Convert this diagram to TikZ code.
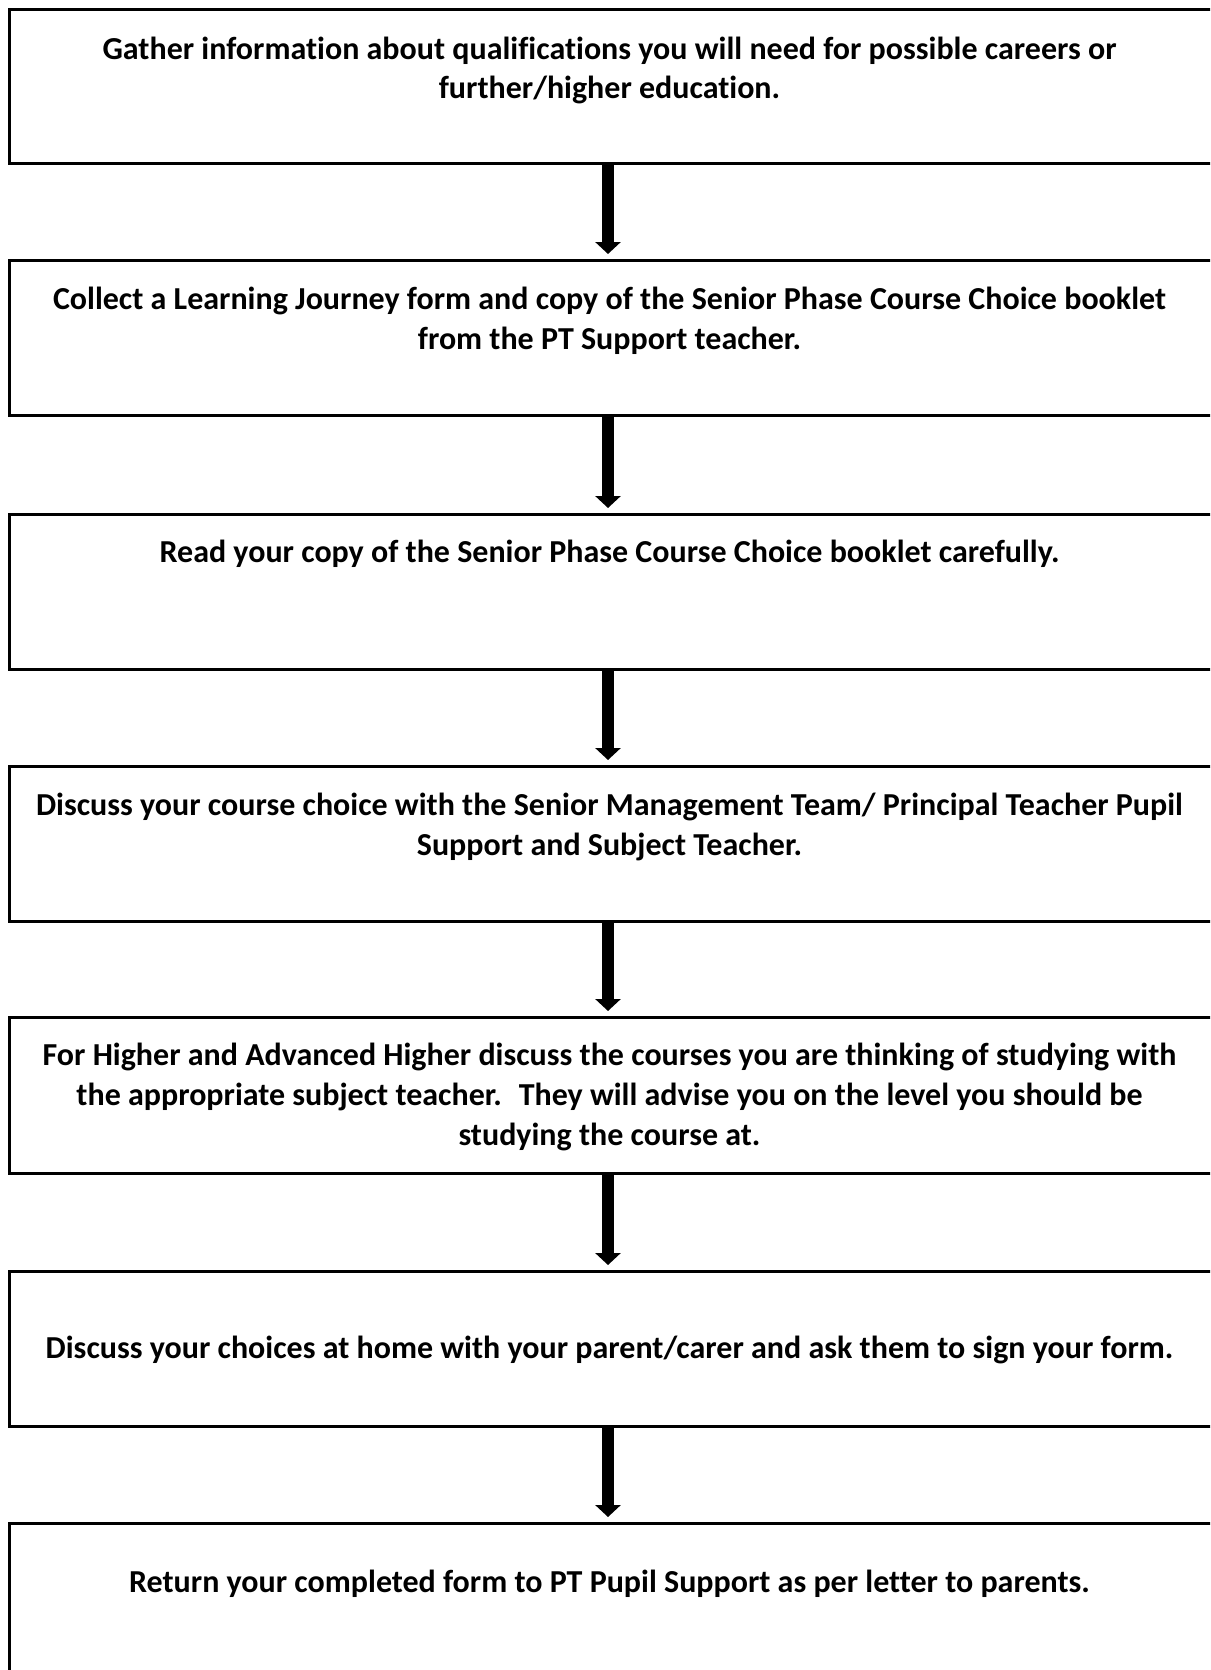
\documentclass[tikz,border=0pt]{standalone}
\usepackage{fontspec}
\setmainfont{Carlito}[Ligatures={NoCommon,NoRare,NoContextual}]
\usetikzlibrary{arrows.meta}
\begin{document}
\begin{tikzpicture}[x=0.5pt,y=-0.5pt,
  stepbox/.style={draw=black,line width=1.5pt,inner sep=0pt,outer sep=0pt,minimum width=601.5pt,fill=none},
  txt/.style={inner sep=0pt,outer sep=0pt,anchor=base,font=\fontsize{16pt}{20pt}\selectfont\bfseries},
  flow/.style={line width=6pt,-{Triangle[width=12.5pt,length=6pt]},shorten >=3pt}]
\useasboundingbox (0,0) rectangle (1210,1670);
\clip (0,0) rectangle (1210,1670);
\coordinate (ax) at (608,0);
% boxes (centre x = 610.5, from x=9 to x=1212)
\node[stepbox,minimum height=77pt]   (b1) at (610.5,86) {};
\node[stepbox,minimum height=77.5pt] (b2) at (610.5,337.5) {};
\node[stepbox,minimum height=77.5pt] (b3) at (610.5,591.5) {};
\node[stepbox,minimum height=77.5pt] (b4) at (610.5,843.5) {};
\node[stepbox,minimum height=78pt]   (b5) at (610.5,1095) {};
\node[stepbox,minimum height=77.5pt] (b6) at (610.5,1348.5) {};
\node[stepbox,minimum height=85pt]   (b7) at (610.5,1608) {};
% texts
\node[txt] (t1) at (609.5,59) {\begin{tabular}[t]{@{}c@{}}Gather information about qualifications you will need for possible careers or\\further/higher education.\end{tabular}};
\node[txt] (t2) at (609.5,309) {\begin{tabular}[t]{@{}c@{}}Collect a Learning Journey form and copy of the Senior Phase Course Choice booklet\\from the PT Support teacher.\end{tabular}};
\node[txt] (t3) at (609.5,562) {Read your copy of the Senior Phase Course Choice booklet carefully.};
\node[txt] (t4) at (609.5,815) {\begin{tabular}[t]{@{}c@{}}Discuss your course choice with the Senior Management Team/ Principal Teacher Pupil\\Support and Subject Teacher.\end{tabular}};
\node[txt] (t5) at (609.5,1065) {\begin{tabular}[t]{@{}c@{}}For Higher and Advanced Higher discuss the courses you are thinking of studying with\\the appropriate subject teacher.~ They will advise you on the level you should be\\studying the course at.\end{tabular}};
\node[txt] (t6) at (609.5,1358) {Discuss your choices at home with your parent/carer and ask them to sign your form.};
\node[txt] (t7) at (609.5,1592) {Return your completed form to PT Pupil Support as per letter to parents.};
% arrows
\draw[flow] (b1.south -| ax) -- (b2.north -| ax);
\draw[flow] (b2.south -| ax) -- (b3.north -| ax);
\draw[flow] (b3.south -| ax) -- (b4.north -| ax);
\draw[flow] (b4.south -| ax) -- (b5.north -| ax);
\draw[flow] (b5.south -| ax) -- (b6.north -| ax);
\draw[flow] (b6.south -| ax) -- (b7.north -| ax);
\end{tikzpicture}
\end{document}
